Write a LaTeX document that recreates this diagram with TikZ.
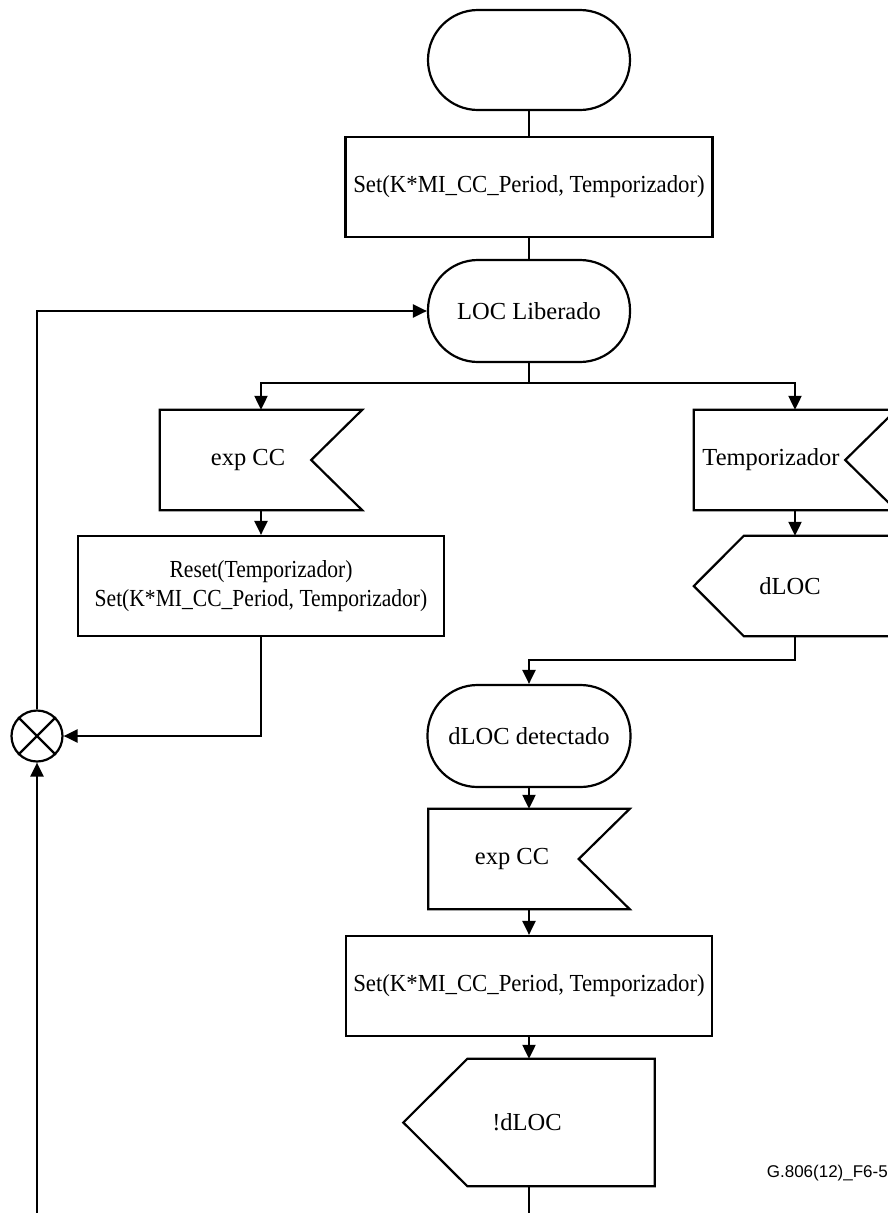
\documentclass[tikz,border=0pt]{standalone}
\usepackage{fontspec}
\usepackage{graphicx}
\setmainfont{Liberation Serif}
\newfontfamily\codefont{Liberation Sans}
\usetikzlibrary{arrows.meta,calc}
\begin{document}
\begin{tikzpicture}[x=1pt,y=-1pt,
  line/.style={line width=2.2pt, line join=miter},
  flow/.style={line, -{Triangle[length=14pt,width=13pt]}},
  txt/.style={font=\fontsize{24.5}{29}\selectfont, inner sep=0pt, align=center},
  term/.style={line, draw, rounded corners=50pt, minimum width=202pt, minimum height=102pt, inner sep=0pt, txt},
  actbox/.style={line, draw, minimum height=100pt, inner sep=0pt, txt},
  frame/.style={minimum height=100pt, minimum width=202pt, inner sep=0pt},
]
\useasboundingbox (0,0) rectangle (888,1213);
\clip (0,0) rectangle (888,1213);

% main column
\node[term, minimum height=100pt] (start) at (529,60) {};
\node[actbox, minimum width=367pt] (set1) at (529,187)
  {\scalebox{0.93}[1]{Set(K*MI\_CC\_Period, Temporizador)}};
\node[term] (loc) at (529,311) {LOC Liberado};

% left branch: received CC
\node[frame] (flagL) at (261,460) {};
\node[txt] (flagLt) at (248,460) {exp CC};
\node[actbox, minimum width=366pt] (reset) at (261,586)
  {\scalebox{0.88}[1]{Reset(Temporizador)}\\\scalebox{0.88}[1]{Set(K*MI\_CC\_Period, Temporizador)}};

% right branch: timer expiry
\node[frame] (flagR) at (795,460) {};
\node[txt] (flagRt) at (771,460) {Temporizador};
\node[frame] (dl) at (795,586) {};
\node[txt] (dlt) at (790,586) {dLOC};

% defect state
\node[term, minimum width=203pt] (det) at (529,736) {dLOC detectado};
\node[frame, minimum width=201pt] (flag3) at (529,859) {};
\node[txt] (flag3t) at (512,859) {exp CC};
\node[actbox, minimum width=366pt] (set3) at (529,986)
  {\scalebox{0.93}[1]{Set(K*MI\_CC\_Period, Temporizador)}};
\node[frame, minimum width=251pt, minimum height=127pt] (ndl) at (529,1122.5) {};
\node[txt] (ndlt) at (527,1122) {!dLOC};

% junction
\node[circle, line, draw, minimum size=51pt, inner sep=0pt] (cx) at (37,736) {};
\draw[line] (cx.north west) -- (cx.south east) (cx.north east) -- (cx.south west);

% input (notched) and output (pointed) signal outlines
\foreach \f in {flagL,flagR,flag3}
  \draw[line] (\f.north west) -- (\f.north east) -- ($(\f.east)+(-51,0)$)
    -- (\f.south east) -- (\f.south west) -- cycle;
\draw[line] (dl.north east) -- ($(dl.north west)+(50,0)$) -- (dl.west)
  -- ($(dl.south west)+(50,0)$) -- (dl.south east) -- cycle;
\draw[line] (ndl.north east) -- ($(ndl.north west)+(64,0)$) -- (ndl.west)
  -- ($(ndl.south west)+(64,0)$) -- (ndl.south east) -- cycle;

% connectors
\coordinate (br) at (529,383);
\coordinate (lo) at (37,1213);
\coordinate (end) at (529,1213);
\draw[line] (start.south) -- (set1.north);
\draw[line] (set1.south) -- (loc.north);
\draw[line] (loc.south) -- (br);
\draw[flow] (br) -| (flagL.north);
\draw[flow] (br) -| (flagR.north);
\draw[flow] (flagL.south) -- (reset.north);
\draw[flow] (reset.south) |- (cx.east);
\draw[flow] (cx.north) |- (loc.west);
\draw[flow] (lo) -- (cx.south);
\draw[flow] (flagR.south) -- (dl.north);
\draw[flow] (dl.south) -- ++(0,24) -| (det.north);
\draw[flow] (det.south) -- (flag3.north);
\draw[flow] (flag3.south) -- (set3.north);
\draw[flow] (set3.south) -- (ndl.north);
\draw[line] (ndl.south) -- (end);

\node[anchor=east, inner sep=0pt, font=\codefont\fontsize{17}{20}\selectfont] (fig) at (888,1173) {G.806(12)\_F6-5};
\end{tikzpicture}
\end{document}
